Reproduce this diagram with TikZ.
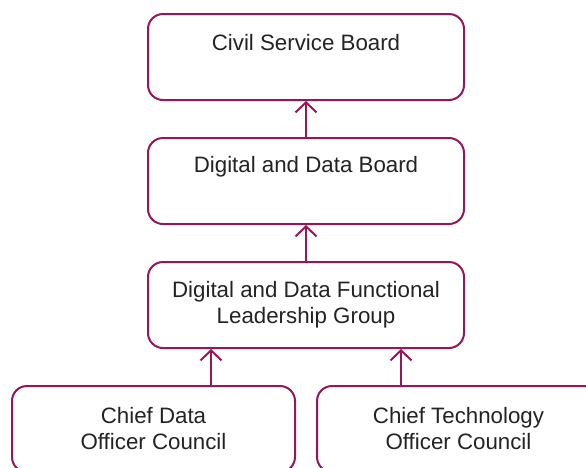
\documentclass[tikz,border=0pt]{standalone}
\usepackage{fontspec}
\setmainfont{Liberation Sans}
\usetikzlibrary{arrows.meta}
\definecolor{plum}{RGB}{152,22,88}
\definecolor{ink}{RGB}{35,35,35}
\begin{document}
\begin{tikzpicture}[x=1pt,y=-1pt,
  txt/.style={text=ink,font=\fontsize{22.3}{26}\selectfont},
  box/.style={draw=plum,line width=2pt,rounded corners=15pt,rectangle,
    minimum width=316pt,minimum height=86pt,inner sep=0pt,
    align=center,txt},
  lowbox/.style={box,minimum width=283pt},
  arr/.style={draw=plum,line width=2pt,-{Straight Barb[length=10pt,width=21pt,line width=2pt]}}]
\useasboundingbox (0,0) rectangle (586,467);
\clip (0,0) rectangle (586,467);
\node[box,label={[txt,yshift=14pt]center:Civil Service Board}] (csb) at (306,57) {};
\node[box,label={[txt,yshift=14pt]center:Digital and Data Board}] (ddb) at (306,181) {};
\node[box] (fl) at (306,305) {Digital and Data Functional\\Leadership Group};
\node[lowbox] (cdo) at (153.5,429) {Chief Data\\Officer Council};
\node[lowbox] (cto) at (458.5,429) {Chief Technology\\Officer Council};
\draw[arr] (ddb.north) -- (csb.south);
\draw[arr] (fl.north) -- (ddb.south);
\draw[arr] ([xshift=57.5pt]cdo.north) -- ([xshift=57.5pt]cdo.north |- fl.south);
\draw[arr] ([xshift=-57.5pt]cto.north) -- ([xshift=-57.5pt]cto.north |- fl.south);
\end{tikzpicture}
\end{document}
